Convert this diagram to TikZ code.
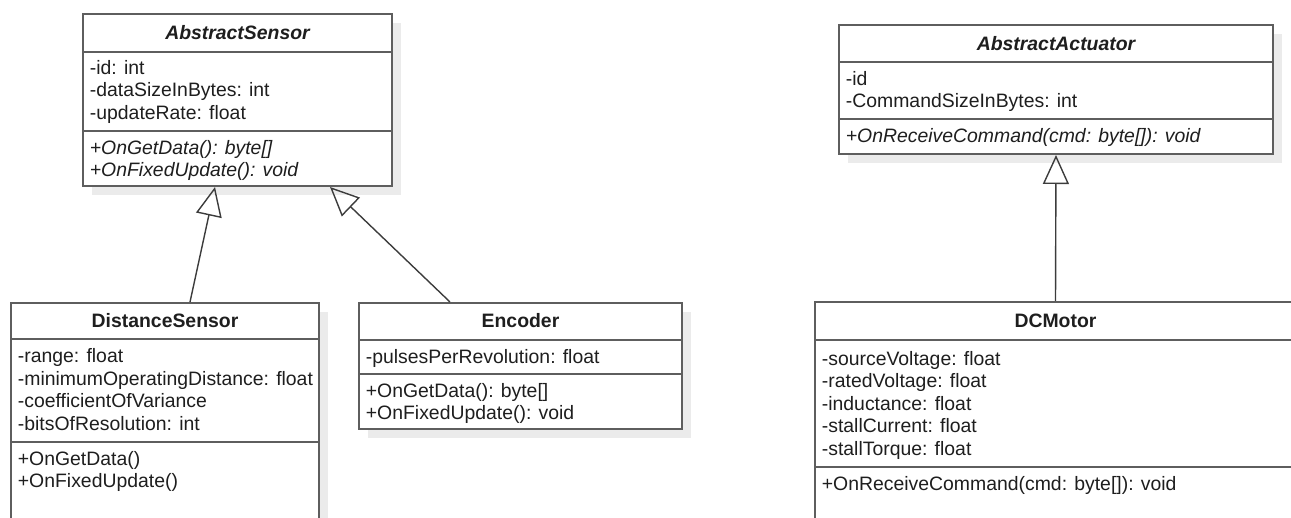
\documentclass[tikz,border=0pt]{standalone}
\usepackage{fontspec}
\setmainfont{Liberation Sans}
\usepackage{tikz}
\usetikzlibrary{shadows,arrows.meta,positioning,fit,calc}
\definecolor{umlborder}{HTML}{5E5E5E}
\definecolor{umlline}{HTML}{3C3C3C}
\definecolor{umltext}{HTML}{1E1E1E}
\definecolor{umlshadow}{HTML}{EBEBEB}
\newcommand{\umlfont}{\fontsize{9.7}{11.25}\selectfont}
\tikzstyle{classbox}=[draw=umlborder, line width=1pt, fill=white, inner sep=0pt,
drop shadow={shadow xshift=4.5pt, shadow yshift=-4.5pt, fill=umlshadow, opacity=1}]
\tikzstyle{divider}=[draw=umlborder, line width=1pt]
\tikzstyle{classname}=[font=\umlfont\bfseries, text=umltext, inner sep=0pt, anchor=base]
\tikzstyle{abstractname}=[classname, font=\umlfont\bfseries\itshape]
\tikzstyle{members}=[font=\umlfont, text=umltext, inner sep=0pt, anchor=north west, align=left]
\tikzstyle{abstractmembers}=[members, font=\umlfont\itshape]
\tikzstyle{line}=[draw, line width=0.7pt, color=umlline, -{Triangle[open, length=14.5pt, width=13pt]}]
\newcommand{\umlbox}[3]{node (#1)[classbox, fit={#2 #3}]{}}

\begin{document}
\begin{tikzpicture}[x=0.5pt, y=-0.5pt]
	\useasboundingbox (0,0) rectangle (1291,518);
	\clip (0,0) rectangle (1291,518);
	
	% Draw class boxes
	\path \umlbox{sensor}{(83,14)}{(392,186)};
	\path \umlbox{actuator}{(839,25)}{(1273,154)};
	\path \umlbox{dist}{(11,303)}{(319,540)};
	\path \umlbox{encoder}{(359,303)}{(682,429)};
	\path \umlbox{motor}{(815,302)}{(1296,540)};
	
	% Compartment lines
	\foreach \b/\y in {sensor/52, sensor/131, actuator/62, actuator/119, dist/339,
		dist/442, encoder/340, encoder/374, motor/340, motor/467}
	\draw[divider] (\b.west |- 0,\y) -- (\b.east |- 0,\y);
	
	% Class names
	\node[abstractname] (sensor-name) at (237.5,40) {AbstractSensor};
	\node[abstractname] (actuator-name) at (1056,51) {AbstractActuator};
	\node[classname] (dist-name) at (165,328) {DistanceSensor};
	\node[classname] (encoder-name) at (520.5,328) {Encoder};
	\node[classname] (motor-name) at (1055.5,328) {DCMotor};
	
	% Attributes and operations
	\node[members] (sensor-attr) at (89.5,58.25) {\strut-id: int\\-dataSizeInBytes: int\\-updateRate: float};
	\node[abstractmembers] (sensor-ops) at (89.5,138.25) {\strut+OnGetData(): byte[]\\+OnFixedUpdate(): void};
	\node[members] (actuator-attr) at (845.5,69.25) {\strut-id\\-CommandSizeInBytes: int};
	\node[abstractmembers] (actuator-ops) at (845.5,126.25) {\strut+OnReceiveCommand(cmd: byte[]): void};
	\node[members] (dist-attr) at (17.5,346.75) {\strut-range: float\\-minimumOperatingDistance: float\\-coefficientOfVariance\\-bitsOfResolution: int};
	\node[members] (dist-ops) at (17.5,449.25) {\strut+OnGetData()\\+OnFixedUpdate()};
	\node[members] (encoder-attr) at (365.5,347.25) {\strut-pulsesPerRevolution: float};
	\node[members] (encoder-ops) at (365.5,381.25) {\strut+OnGetData(): byte[]\\+OnFixedUpdate(): void};
	\node[members] (motor-attr) at (821.5,349.25) {\strut-sourceVoltage: float\\-ratedVoltage: float\\-inductance: float\\-stallCurrent: float\\-stallTorque: float};
	\node[members] (motor-ops) at (821.5,474.25) {\strut+OnReceiveCommand(cmd: byte[]): void};
	
	% Draw generalisation arrows
	\path [line] ($(dist.north)+(25,0)$) -- ($(sensor.south)+(-22.5,0)$);
	\path [line] ($(encoder.north)+(-70.5,0)$) -- ($(sensor.south)+(92.5,0)$);
	\path [line] (motor.north) -- (actuator.south);
	
\end{tikzpicture}
\end{document}
